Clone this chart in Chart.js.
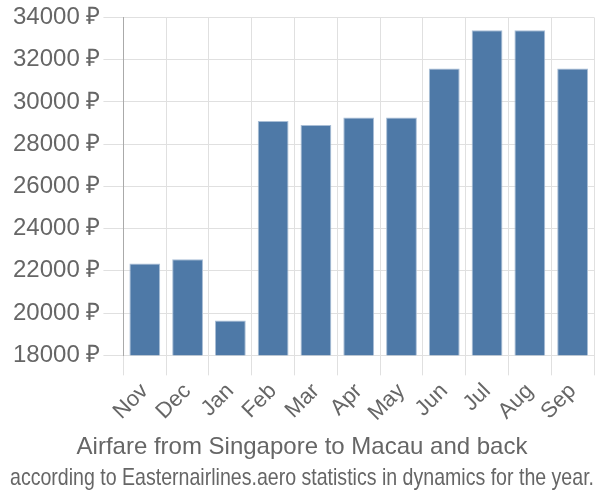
<!DOCTYPE html>
<html>
<head>
<meta charset="utf-8">
<script src="https://cdn.jsdelivr.net/npm/chart.js@4"></script>
<style>
  html, body { margin: 0; padding: 0; background: #fff; }
  #wrap { width: 600px; height: 500px; }
</style>
</head>
<body>
<div id="wrap"><canvas id="myChart" width="600" height="500"></canvas></div>
<script>
const months = ['Nov', 'Dec', 'Jan', 'Feb', 'Mar', 'Apr', 'May', 'Jun', 'Jul', 'Aug', 'Sep'];
const prices = [22350, 22550, 19650, 29090, 28900, 29260, 29260, 31580, 33390, 33390, 31580];
const yMin = 18000;
const yMax = 34000;
const yStep = 2000;
const titleText = 'Airfare from Singapore to Macau and back';
const subtitleText = 'according to Easternairlines.aero statistics in dynamics for the year.';

Chart.defaults.font.family = '"Liberation Sans", Arial, sans-serif';
Chart.defaults.color = '#666';

const ctx = document.getElementById('myChart').getContext('2d');
const myChart = new Chart(ctx, {
    type: 'bar',
    data: {
        labels: months,
        datasets: [{
            label: 'Price',
            data: prices,
            backgroundColor: '#4e79a7',
            borderColor: '#a9bed6',
            borderWidth: { top: 1, left: 1, right: 1, bottom: 0 }
        }]
    },
    options: {
        responsive: false,
        animation: false,
        layout: { padding: { left: 10, right: 6, top: 4, bottom: 5 } },
        plugins: {
            legend: { display: false },
            tooltip: { enabled: false },
            title: {
                display: true,
                text: titleText,
                position: 'bottom',
                weight: 1000,
                color: '#666',
                font: { size: 24, weight: 'normal' },
                padding: { top: 4, bottom: 2 }
            },
            subtitle: {
                display: true,
                text: subtitleText,
                position: 'bottom',
                weight: 1500,
                color: '#666',
                font: { size: 24, weight: 'normal' },
                padding: { top: 0, bottom: 2 }
            }
        },
        scales: {
            x: {
                grid: { color: '#e0e0e0', tickLength: 20 },
                border: { color: '#e0e0e0' },
                ticks: { font: { size: 22 }, autoSkip: false, maxRotation: 45, minRotation: 45, color: '#666' }
            },
            y: {
                min: yMin,
                max: yMax,
                grid: { color: '#e0e0e0', tickLength: 20 },
                border: { color: '#aaa' },
                ticks: {
                    stepSize: yStep,
                    font: { size: 24 },
                    color: '#666',
                    callback: v => v + ' ₽'
                }
            }
        }
    }
});
</script>
</body>
</html>
